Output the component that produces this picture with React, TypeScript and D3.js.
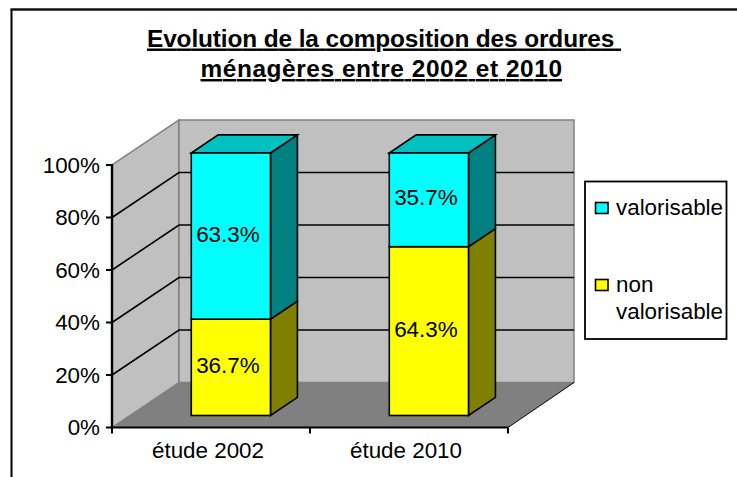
import React from "react";
import * as d3 from "d3";

const categories = ["étude 2002", "étude 2010"];
const valorisable = [63.3, 35.7];
const nonValorisable = [36.7, 64.3];
const yTicks = [0, 20, 40, 60, 80, 100];
const titleLines = ["Evolution de la composition des ordures ", "ménagères entre 2002 et 2010"];
const FONT = "'Liberation Sans', Arial, sans-serif";

const y = d3.scaleLinear().domain([0, 100]).range([427.5, 165]);
const x = d3.scalePoint<number>().domain([0, 1, 2]).range([112, 508]);
const band = d3.scaleBand<string>().domain(categories).range([112, 508]).paddingInner(0.6).paddingOuter(0.3).align(0.567);
const DX = 67, DY = -45;
const BAR_DEPTH0 = 0.178, BAR_DEPTH1 = 0.58;
const pts = (p: number[][]) => p.map((d) => d.join(",")).join(" ");

function Seg({ x0, x1, v0, v1, front, top, side, showTop }: any) {
  const ox = DX * BAR_DEPTH0, oy = DY * BAR_DEPTH0 * 1.5;
  const dx = DX * (BAR_DEPTH1 - BAR_DEPTH0), dy = DY * (BAR_DEPTH1 - BAR_DEPTH0);
  const xa = x0 + ox, xb = x1 + ox, ya = y(v1) + oy, yb = y(v0) + oy;
  const st = { stroke: "#000", strokeWidth: 1.6, strokeLinejoin: "miter" as const };
  return (
    <g>
      <polygon points={pts([[xb, ya], [xb + dx, ya + dy], [xb + dx, yb + dy], [xb, yb]])} fill={side} {...st} />
      {showTop && <polygon points={pts([[xa, ya], [xa + dx, ya + dy], [xb + dx, ya + dy], [xb, ya]])} fill={top} {...st} />}
      <rect x={xa} y={ya} width={xb - xa} height={yb - ya} fill={front} {...st} />
    </g>
  );
}

export default function App() {
  const wallBottom = y(0) + DY, wallTop = y(100) + DY;
  const titleX = [147, 200.5];
  const titleW = [474, 361.5];
  return (
    <svg width={737} height={477} style={{ position: "absolute", left: 0, top: 0, background: "#fff" }} fontFamily={FONT}>
      <line x1={11.5} y1={9} x2={11.5} y2={477} stroke="#000" strokeWidth={2} />
      <line x1={10.5} y1={9.5} x2={737} y2={9.5} stroke="#111" strokeWidth={2.5} />
      {titleLines.map((t, i) => (
        <text key={i} x={titleX[i]} y={46.5 + i * 30.5} fontSize={24.4} fontWeight="bold" textDecoration="underline" xmlSpace="preserve" textLength={titleW[i]} lengthAdjust="spacing" fill="#000">{t}</text>
      ))}
      {/* walls */}
      <polygon points={pts([[x(0)!, y(0)], [x(0)! + DX, wallBottom], [x(0)! + DX, wallTop], [x(0)!, y(100)]])} fill="#c0c0c0" stroke="#808080" strokeWidth={1.5} />
      <rect x={x(0)! + DX} y={wallTop} width={x(2)! - x(0)! - 1} height={wallBottom - wallTop} fill="#c0c0c0" stroke="#808080" strokeWidth={1.5} />
      <polygon points={pts([[x(0)!, y(0)], [x(2)!, y(0)], [x(2)! + DX - 1, wallBottom], [x(0)! + DX, wallBottom]])} fill="#808080" />
      <line x1={x(2)!} y1={y(0)} x2={x(2)! + DX - 1} y2={wallBottom} stroke="#000" strokeWidth={1} />
      {yTicks.filter((t) => t > 0 && t < 100).map((t) => (
        <polyline key={t} stroke="#000" strokeWidth={1.6} fill="none" points={pts([[x(0)!, y(t)], [x(0)! + DX, y(t) + DY], [x(2)! + DX - 1, y(t) + DY]])} />
      ))}
      {categories.map((c, i) => {
        const x0 = band(c)!, x1 = x0 + band.bandwidth();
        return (
          <g key={c}>
            <Seg x0={x0} x1={x1} v0={0} v1={nonValorisable[i]} front="#ffff00" top="#c0c000" side="#808000" />
            <Seg x0={x0} x1={x1} v0={nonValorisable[i]} v1={100} front="#00ffff" top="#00c0c0" side="#008080" showTop />
          </g>
        );
      })}
      {/* axes */}
      <line x1={x(0)!} y1={y(100) - 1} x2={x(0)!} y2={y(0) + 1} stroke="#000" strokeWidth={2.4} />
      <line x1={x(0)! - 1} y1={y(0)} x2={x(2)!} y2={y(0)} stroke="#000" strokeWidth={2.2} />
      {yTicks.map((t) => (
        <g key={t}>
          <line x1={x(0)! - 6} x2={x(0)!} y1={y(t)} y2={y(t)} stroke="#000" strokeWidth={2} />
          <text x={100} y={y(t) + 7.5} textAnchor="end" fontSize={22.4} fill="#000">{t}%</text>
        </g>
      ))}
      {x.domain().map((d) => (
        <line key={d} x1={x(d)!} x2={x(d)!} y1={y(0)} y2={y(0) + 6} stroke="#000" strokeWidth={2} />
      ))}
      {categories.map((c, i) => (
        <text key={c} x={(x(i)! + x(i + 1)!) / 2 - 3} y={458} textAnchor="middle" fontSize={22.4} fill="#000">{c}</text>
      ))}
      {categories.map((c, i) => {
        const cx = band(c)! + band.bandwidth() / 2 + DX * BAR_DEPTH0;
        const oy = DY * BAR_DEPTH0 * 1.5;
        return (
          <g key={c} fontSize={22.4} fill="#000" textAnchor="middle">
            <text x={cx - 3} y={y(nonValorisable[i] / 2) + oy + 5.5}>{d3.format(".1f")(nonValorisable[i])}%</text>
            <text x={cx - 3} y={y(nonValorisable[i] + valorisable[i] / 2) + oy + 5.5}>{d3.format(".1f")(valorisable[i])}%</text>
          </g>
        );
      })}
      {/* legend */}
      <rect x={585} y={181.5} width={141.5} height={157.5} fill="#fff" stroke="#000" strokeWidth={1.8} />
      <rect x={595.5} y={202.5} width={12.5} height={11} fill="#00ffff" stroke="#000" strokeWidth={1.6} />
      <rect x={595.5} y={279.5} width={12.5} height={11} fill="#ffff00" stroke="#000" strokeWidth={1.6} />
      <g fontSize={22.4} fill="#000">
        <text x={616} y={215}>valorisable</text>
        <text x={616} y={292}>non</text>
        <text x={616} y={319}>valorisable</text>
      </g>
    </svg>
  );
}
